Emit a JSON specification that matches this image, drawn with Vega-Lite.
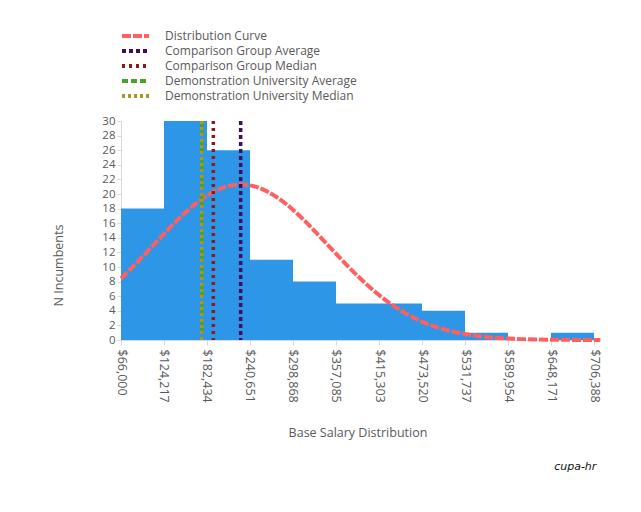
{
  "$schema": "https://vega.github.io/schema/vega-lite/v6.json",
  "width": 473,
  "height": 219,
  "autosize": {"type": "none"},
  "padding": {"left": 121, "top": 121, "right": 47, "bottom": 172},
  "background": "white",
  "config": {
    "view": {"stroke": null},
    "font": "Open Sans",
    "axis": {"labelColor": "#595959", "titleColor": "#595959", "titleFontWeight": "normal", "domainColor": "#d9d9d9", "tickColor": "#d9d9d9", "grid": false, "labelFont": "Open Sans", "titleFont": "Open Sans", "labelOverlap": false},
    "legend": {"labelFont": "Open Sans", "labelColor": "#595959"}
  },
  "title": {"text": "cupa-hr", "orient": "bottom", "anchor": "end", "offset": 22, "fontSize": 11, "fontStyle": "italic", "font": "DejaVu Sans", "fontWeight": "normal", "color": "#111111", "dx": -12},
  "datasets": {
    "bins": [
      {"bin_start": 66000, "bin_end": 124217, "count": 18},
      {"bin_start": 124217, "bin_end": 182434, "count": 30},
      {"bin_start": 182434, "bin_end": 240651, "count": 26},
      {"bin_start": 240651, "bin_end": 298868, "count": 11},
      {"bin_start": 298868, "bin_end": 357085, "count": 8},
      {"bin_start": 357085, "bin_end": 415303, "count": 5},
      {"bin_start": 415303, "bin_end": 473520, "count": 5},
      {"bin_start": 473520, "bin_end": 531737, "count": 4},
      {"bin_start": 531737, "bin_end": 589954, "count": 1},
      {"bin_start": 589954, "bin_end": 648171, "count": 0},
      {"bin_start": 648171, "bin_end": 706388, "count": 1}
    ],
    "curve": [
      {"series": "Distribution Curve", "salary": 66000, "n": 8.42},
      {"series": "Distribution Curve", "salary": 90000, "n": 10.86},
      {"series": "Distribution Curve", "salary": 110000, "n": 13.02},
      {"series": "Distribution Curve", "salary": 130000, "n": 15.17},
      {"series": "Distribution Curve", "salary": 150000, "n": 17.18},
      {"series": "Distribution Curve", "salary": 170000, "n": 18.91},
      {"series": "Distribution Curve", "salary": 190000, "n": 20.24},
      {"series": "Distribution Curve", "salary": 210000, "n": 21.06},
      {"series": "Distribution Curve", "salary": 228000, "n": 21.3},
      {"series": "Distribution Curve", "salary": 250000, "n": 20.94},
      {"series": "Distribution Curve", "salary": 270000, "n": 20.01},
      {"series": "Distribution Curve", "salary": 290000, "n": 18.59},
      {"series": "Distribution Curve", "salary": 310000, "n": 16.79},
      {"series": "Distribution Curve", "salary": 330000, "n": 14.74},
      {"series": "Distribution Curve", "salary": 350000, "n": 12.58},
      {"series": "Distribution Curve", "salary": 370000, "n": 10.44},
      {"series": "Distribution Curve", "salary": 390000, "n": 8.42},
      {"series": "Distribution Curve", "salary": 410000, "n": 6.6},
      {"series": "Distribution Curve", "salary": 430000, "n": 5.03},
      {"series": "Distribution Curve", "salary": 450000, "n": 3.73},
      {"series": "Distribution Curve", "salary": 470000, "n": 2.68},
      {"series": "Distribution Curve", "salary": 490000, "n": 1.88},
      {"series": "Distribution Curve", "salary": 510000, "n": 1.28},
      {"series": "Distribution Curve", "salary": 530000, "n": 0.85},
      {"series": "Distribution Curve", "salary": 550000, "n": 0.54},
      {"series": "Distribution Curve", "salary": 570000, "n": 0.34},
      {"series": "Distribution Curve", "salary": 590000, "n": 0.21},
      {"series": "Distribution Curve", "salary": 610000, "n": 0.12},
      {"series": "Distribution Curve", "salary": 630000, "n": 0.07},
      {"series": "Distribution Curve", "salary": 650000, "n": 0.04},
      {"series": "Distribution Curve", "salary": 670000, "n": 0.02},
      {"series": "Distribution Curve", "salary": 690000, "n": 0.01},
      {"series": "Distribution Curve", "salary": 715000, "n": 0.0}
    ],
    "markers": [
      {"series": "Comparison Group Average", "salary": 228000},
      {"series": "Comparison Group Median", "salary": 191000},
      {"series": "Demonstration University Average", "salary": 175300},
      {"series": "Demonstration University Median", "salary": 175300}
    ]
  },
  "layer": [
    {
      "data": {"name": "bins"},
      "mark": {"type": "rect", "color": "#2E96E6"},
      "encoding": {
        "x": {"field": "bin_start", "type": "quantitative", "scale": {"domain": [66000, 706388], "nice": false, "zero": false},
          "axis": {"title": "Base Salary Distribution", "values": [66000, 124217, 182434, 240651, 298868, 357085, 415303, 473520, 531737, 589954, 648171, 706388], "format": "$,.0f", "labelAngle": 90, "labelFontSize": 12.5, "titleFontSize": 12.5, "tickSize": 5, "labelPadding": 4, "titleY": 92, "titleBaseline": "middle", "labelOverlap": false}},
        "x2": {"field": "bin_end"},
        "y": {"field": "count", "type": "quantitative", "scale": {"domain": [0, 30], "nice": false},
          "axis": {"title": "N Incumbents", "values": [0, 2, 4, 6, 8, 10, 12, 14, 16, 18, 20, 22, 24, 26, 28, 30], "labelOverlap": false, "labelFontSize": 11.5, "titleFontSize": 12.5, "tickSize": 4, "labelPadding": 2, "titleX": -63, "titleY": 144, "titleAngle": -90, "titleAlign": "center", "titleBaseline": "middle"}},
        "y2": {"datum": 0}
      }
    },
    {
      "data": {"name": "curve"},
      "mark": {"type": "line", "strokeWidth": 4, "interpolate": "monotone"},
      "encoding": {
        "x": {"field": "salary", "type": "quantitative"},
        "y": {"field": "n", "type": "quantitative", "scale": {"domain": [0, 30], "nice": false},
          "axis": {"title": "N Incumbents", "values": [0, 2, 4, 6, 8, 10, 12, 14, 16, 18, 20, 22, 24, 26, 28, 30], "labelOverlap": false, "labelFontSize": 11.5, "titleFontSize": 12.5, "tickSize": 4, "labelPadding": 2, "titleX": -63, "titleY": 144, "titleAngle": -90, "titleAlign": "center", "titleBaseline": "middle"}},
        "color": {"field": "series", "type": "nominal",
          "scale": {"domain": ["Distribution Curve", "Comparison Group Average", "Comparison Group Median", "Demonstration University Average", "Demonstration University Median"],
            "range": ["#FF5F5F", "#3C0E5E", "#8C1A18", "#48A22B", "#A9981F"]},
          "legend": {"title": null, "orient": "none", "legendX": -1, "legendY": -92.5, "symbolType": "stroke", "symbolSize": 729, "symbolStrokeWidth": 4, "clipHeight": 15, "rowPadding": 0, "labelFontSize": 12, "labelOffset": 14, "labelLimit": 400, "symbolOpacity": 1}},
        "strokeDash": {"field": "series", "type": "nominal",
          "scale": {"domain": ["Distribution Curve", "Comparison Group Average", "Comparison Group Median", "Demonstration University Average", "Demonstration University Median"],
            "range": [[9, 2], [4, 3], [3, 4], [6, 3], [3, 3]]},
          "legend": {"title": null, "orient": "none", "legendX": -1, "legendY": -92.5, "symbolType": "stroke", "symbolSize": 729, "symbolStrokeWidth": 4, "clipHeight": 15, "rowPadding": 0, "labelFontSize": 12, "labelOffset": 14, "labelLimit": 400}}
      }
    },
    {
      "data": {"name": "markers"},
      "mark": {"type": "rule", "strokeWidth": 3.5},
      "encoding": {
        "x": {"field": "salary", "type": "quantitative"},
        "color": {"field": "series", "type": "nominal"},
        "strokeDash": {"field": "series", "type": "nominal"}
      }
    }
  ]
}
